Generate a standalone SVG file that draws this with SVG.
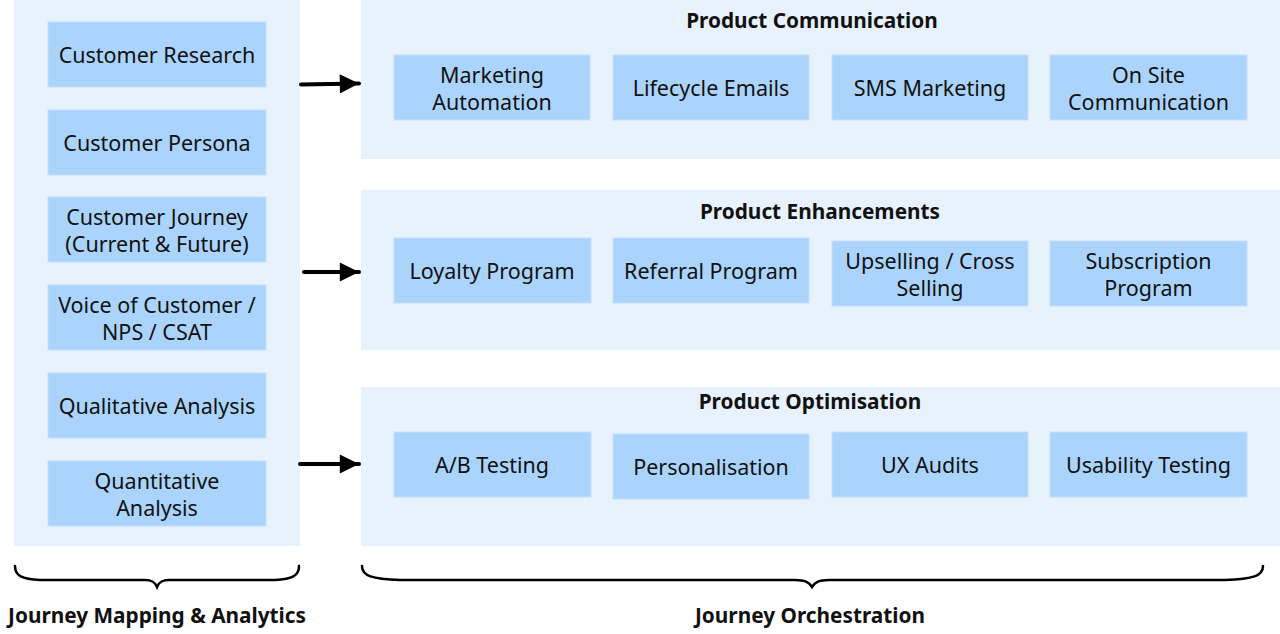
<svg xmlns="http://www.w3.org/2000/svg" width="1280" height="634" viewBox="0 0 1280 634">
<defs>
<style>
.panel{fill:#e8f2fd}
.box{fill:#abd4fc;stroke:#c2defc;stroke-width:1}
.t{font-family:"Noto Sans","Open Sans",sans-serif;font-size:21.5px;fill:#111;text-anchor:middle}
.h{font-family:"Noto Sans","Open Sans",sans-serif;font-size:20.8px;font-weight:bold;fill:#111;text-anchor:middle}
.arrow{stroke:#000;stroke-width:4;fill:none;stroke-linecap:round}
.brace{fill:none;stroke:#000;stroke-width:2.5;stroke-linecap:round}
</style>
<marker id="ah" viewBox="0 0 10 10" refX="10" refY="5" markerWidth="6.5" markerHeight="4.8" markerUnits="strokeWidth" orient="auto"><path d="M0,0 L10,5 L0,10 z" fill="#000"/></marker>
</defs>
<rect width="1280" height="634" fill="#fff"/>

<g id="panel-left"><rect class="panel" x="14" y="0" width="286" height="546"/></g>
<g id="panel-communication"><rect class="panel" x="361" y="0" width="919" height="159"/><text class="h" x="812" y="28">Product Communication</text></g>
<g id="panel-enhancements"><rect class="panel" x="361" y="190" width="919" height="160"/><text class="h" x="820" y="219">Product Enhancements</text></g>
<g id="panel-optimisation"><rect class="panel" x="361" y="387" width="919" height="159"/><text class="h" x="810" y="409">Product Optimisation</text></g>

<g id="customer-research"><rect class="box" x="48" y="22" width="218" height="65"/><text class="t" x="157" y="63">Customer Research</text></g>
<g id="customer-persona"><rect class="box" x="48" y="110" width="218" height="65"/><text class="t" x="157" y="151">Customer Persona</text></g>
<g id="customer-journey"><rect class="box" x="48" y="197" width="218" height="65"/><text class="t" x="157" y="225">Customer Journey</text><text class="t" x="157" y="252">(Current &amp; Future)</text></g>
<g id="voice-of-customer"><rect class="box" x="48" y="285" width="218" height="65"/><text class="t" x="157" y="313">Voice of Customer /</text><text class="t" x="157" y="340">NPS / CSAT</text></g>
<g id="qualitative"><rect class="box" x="48" y="373" width="218" height="65"/><text class="t" x="157" y="414">Qualitative Analysis</text></g>
<g id="quantitative"><rect class="box" x="48" y="461" width="218" height="65"/><text class="t" x="157" y="489">Quantitative</text><text class="t" x="157" y="516">Analysis</text></g>

<g id="marketing-automation"><rect class="box" x="394" y="55" width="196" height="65"/><text class="t" x="492" y="83">Marketing</text><text class="t" x="492" y="110">Automation</text></g>
<g id="lifecycle-emails"><rect class="box" x="613" y="55" width="196" height="65"/><text class="t" x="711" y="96">Lifecycle Emails</text></g>
<g id="sms-marketing"><rect class="box" x="832" y="55" width="196" height="65"/><text class="t" x="930" y="96">SMS Marketing</text></g>
<g id="on-site-communication"><rect class="box" x="1050" y="55" width="197" height="65"/><text class="t" x="1148.5" y="83">On Site</text><text class="t" x="1148.5" y="110">Communication</text></g>

<g id="loyalty-program"><rect class="box" x="394" y="238" width="197" height="65"/><text class="t" x="492" y="279">Loyalty Program</text></g>
<g id="referral-program"><rect class="box" x="613" y="238" width="196" height="65"/><text class="t" x="711" y="279">Referral Program</text></g>
<g id="upselling"><rect class="box" x="832" y="241" width="196" height="65"/><text class="t" x="930" y="269">Upselling / Cross</text><text class="t" x="930" y="296">Selling</text></g>
<g id="subscription-program"><rect class="box" x="1050" y="241" width="197" height="65"/><text class="t" x="1148.5" y="269">Subscription</text><text class="t" x="1148.5" y="296">Program</text></g>

<g id="ab-testing"><rect class="box" x="394" y="432" width="197" height="65"/><text class="t" x="492" y="473">A/B Testing</text></g>
<g id="personalisation"><rect class="box" x="613" y="434" width="196" height="65"/><text class="t" x="711" y="475">Personalisation</text></g>
<g id="ux-audits"><rect class="box" x="832" y="432" width="196" height="65"/><text class="t" x="930" y="473">UX Audits</text></g>
<g id="usability-testing"><rect class="box" x="1050" y="432" width="197" height="65"/><text class="t" x="1148.5" y="473">Usability Testing</text></g>

<g id="connectors">
<line class="arrow" x1="301" y1="84.5" x2="359" y2="83.5" marker-end="url(#ah)"/>
<line class="arrow" x1="304" y1="272" x2="359" y2="272" marker-end="url(#ah)"/>
<line class="arrow" x1="300" y1="464" x2="359" y2="464" marker-end="url(#ah)"/>
</g>

<g id="braces">
<path class="brace" d="M15,566 C15,576 22,579 40,580 L145,580 C152,580 155,582 157,587 C159,582 162,580 169,580 L275,580 C292,579 299,576 299,566"/>
<path class="brace" d="M362,566 C362,576 372,579 400,580 L795,580 C805,580 809,582 812,587 C815,582 819,580 829,580 L1225,580 C1253,579 1263,576 1263,566"/>
<text class="h" x="157" y="623">Journey Mapping &amp; Analytics</text>
<text class="h" x="810" y="623">Journey Orchestration</text>
</g>
</svg>
